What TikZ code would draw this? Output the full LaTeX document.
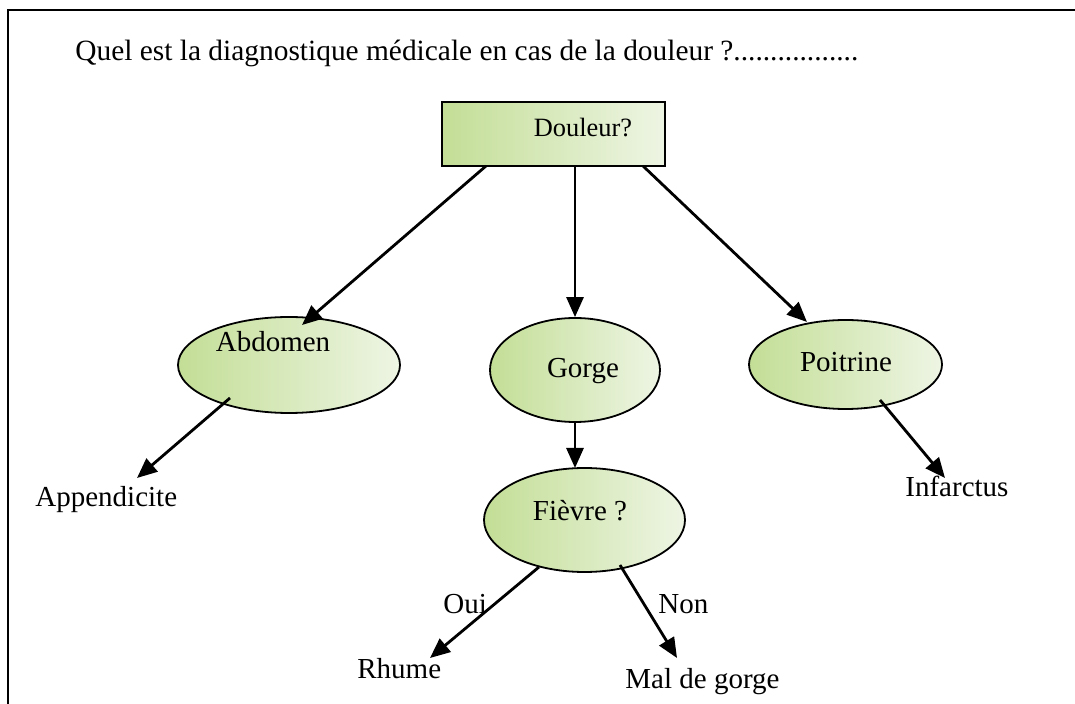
\documentclass[tikz,border=0pt]{standalone}
\usepackage{fontspec}
\setmainfont{Liberation Serif}
\usetikzlibrary{arrows.meta,shapes.geometric}
\definecolor{greenL}{HTML}{C3DE96}
\definecolor{greenR}{HTML}{EEF5E4}
\tikzset{
  conn/.style={line width=1.4pt,-{Triangle[length=10pt,width=8.5pt]}},
  gbox/.style={draw,line width=0.9pt,left color=greenL,right color=greenR,minimum width=111.5pt,minimum height=32pt,inner sep=0pt},
  gell/.style={draw,line width=0.9pt,ellipse,left color=greenL,right color=greenR,inner sep=0pt},
  lbl/.style={inner sep=0pt,font=\fontsize{14.5}{17}\selectfont},
  ttl/.style={inner sep=0pt,font=\fontsize{14.7}{18}\selectfont}
}
\begin{document}
\begin{tikzpicture}[x=0.5pt,y=-0.5pt]
\useasboundingbox (0,0) rectangle (1075,704);
% frame
\draw[line width=1pt] (8,704) -- (8,10) -- (1075,10);
% title
\node[ttl,anchor=base west] (title) at (75,61) {Quel est la diagnostique médicale en cas de la douleur ?.................};
% root
\node[gbox] (root) at (553.5,134) {};
\node[lbl,anchor=base,font=\fontsize{13.2}{16}\selectfont] (rootT) at (583,137) {Douleur?};
% second level
\node[gell,minimum width=111pt,minimum height=48pt] (abd) at (289,365) {};
\node[lbl,anchor=base] (abdT) at (273,352) {Abdomen};
\node[gell,minimum width=85pt,minimum height=52pt] (gor) at (575,370) {};
\node[lbl,anchor=base] (gorT) at (583,378) {Gorge};
\node[gell,minimum width=96.5pt,minimum height=44.5pt] (poi) at (845.5,364.5) {};
\node[lbl,anchor=base] (poiT) at (846,372) {Poitrine};
% third level
\node[gell,minimum width=100.5pt,minimum height=52pt] (fie) at (584.5,520) {};
\node[lbl,anchor=base] (fieT) at (580,521) {Fièvre ?};
% leaves
\node[lbl,anchor=base west] (app) at (35,507) {Appendicite};
\node[lbl,anchor=base west] (inf) at (905,497) {Infarctus};
\node[lbl,anchor=base west] (rhu) at (357,678) {Rhume};
\node[lbl,anchor=base west] (mal) at (625,688) {Mal de gorge};
% branch labels
\node[lbl,anchor=base west] (oui) at (443,613) {Oui};
\node[lbl,anchor=base west] (non) at (658,613) {Non};
% connector end points
\coordinate (r1) at (486,166);
\coordinate (r2) at (575,166);
\coordinate (r3) at (643,166);
\coordinate (abdTip) at (302,325);
\coordinate (poiTip) at (807,322);
\coordinate (fieTip) at (575,468);
\coordinate (a1) at (230,398);
\coordinate (p1) at (880,400);
\coordinate (f1) at (539,567);
\coordinate (f2) at (620,565);
\coordinate (appTip) at (137,478);
\coordinate (infTip) at (945,478);
\coordinate (rhuTip) at (430,658);
\coordinate (malTip) at (677,658);
% connectors
\draw[conn] (r1) -- (abdTip);
\draw[conn] (r2) -- (gor.north);
\draw[conn] (r3) -- (poiTip);
\draw[conn] (gor.south) -- (fieTip);
\draw[conn] (a1) -- (appTip);
\draw[conn] (p1) -- (infTip);
\draw[conn] (f1) -- (rhuTip);
\draw[conn] (f2) -- (malTip);
\end{tikzpicture}
\end{document}
